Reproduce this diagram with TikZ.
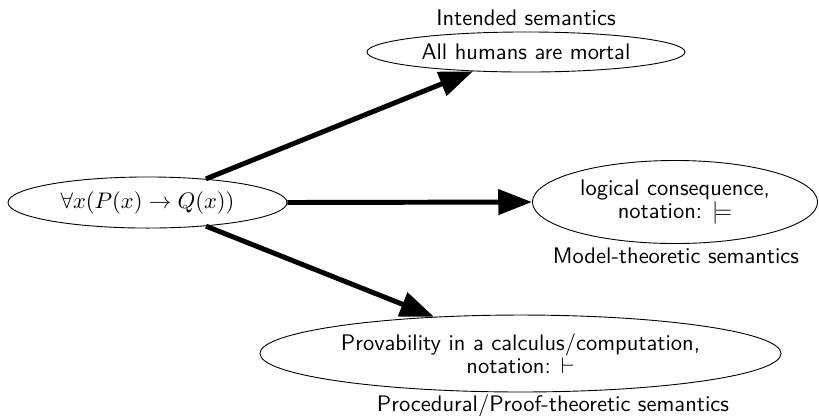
\documentclass[tikz,border=0pt]{standalone}
\usepackage{amsmath}
\usepackage{amssymb}
\usetikzlibrary{arrows.meta,shapes.geometric}

\begin{document}
\begin{tikzpicture}[x=0.4444pt,y=-0.4444pt,
  elli/.style={draw,ellipse,inner sep=0pt,align=center,font=\sffamily},
  lab/.style={font=\sffamily,inner sep=0pt},
  fat/.style={line width=2.2pt,-{Triangle[length=15pt,width=11pt]}}]
\useasboundingbox (0,0) rectangle (819,415);
\node[elli,font=\normalfont,minimum width=124pt,minimum height=22.7pt] (phi) at (147.5,202.5) {$\forall x(P(x) \to Q(x))$};
\node[elli,minimum width=141.3pt,minimum height=17.8pt] (intended) at (526,52) {All humans are mortal};
\node[elli,minimum width=126.7pt,minimum height=36.9pt] (model) at (675,202) {logical consequence,\\[-2pt] notation: $\models$};
\node[elli,minimum width=231.6pt,minimum height=34.2pt] (proof) at (520.5,353.5) {Provability in a calculus/computation,\\[-2pt] notation: $\vdash$};
\node[lab] (intendedlab) at (526,18) {Intended semantics};
\node[lab] (modellab) at (676,256) {Model-theoretic semantics};
\node[lab] (prooflab) at (553,406) {Procedural/Proof-theoretic semantics};
\draw[fat] (phi.22) -- (intended.200);
\draw[fat] (phi.east) -- (model.west);
\draw[fat] (phi.-22) -- (proof.157);
\end{tikzpicture}
\end{document}
